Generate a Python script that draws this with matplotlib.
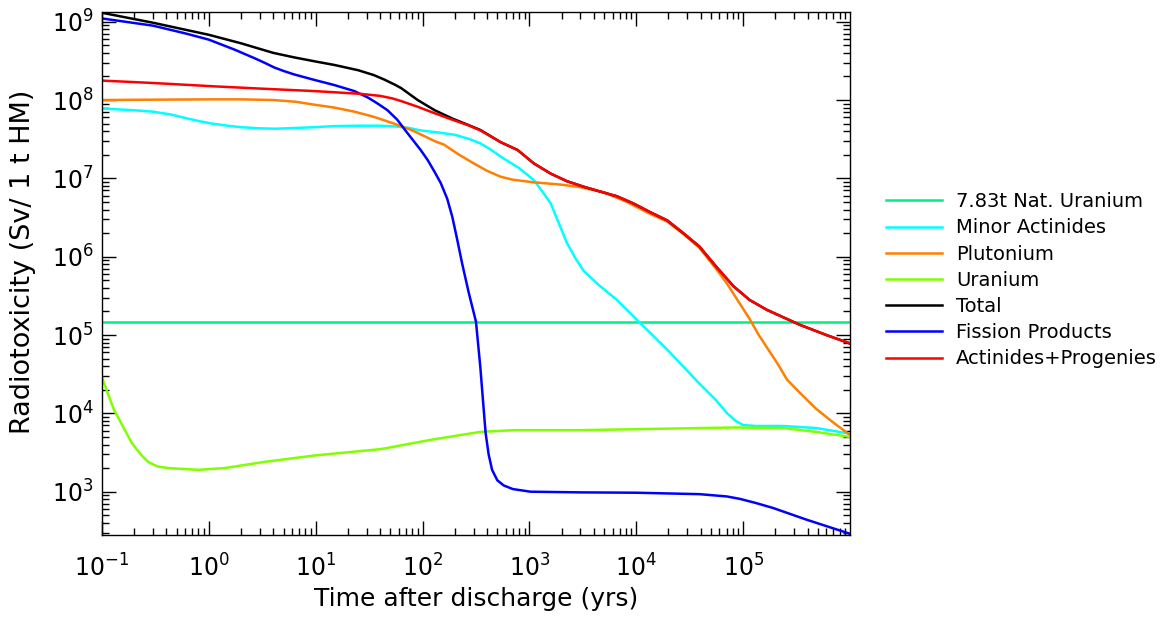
import matplotlib
matplotlib.use('Agg')
import matplotlib.pyplot as plt
from matplotlib.ticker import LogLocator, NullFormatter

# Years after discharge / radiotoxicity (Sv per t HM)
nat_u_level = 1.48e5
nat_u_t = [0.1, 1e6]

ma_t = [0.1, 0.2, 0.3, 0.45, 0.6, 0.8, 1.07, 1.5, 2.0, 3.0, 4.2, 6.5, 9.8,
        15, 26, 40, 55, 75, 95, 140, 200, 270, 347, 430, 537, 800, 1100,
        1300, 1580, 1900, 2240, 2700, 3240, 4500, 6600, 11000, 19500, 38900,
        55000, 70800, 85000, 1e5, 130000, 234000, 479000, 1e6]
ma_v = [7.8e7, 7.4e7, 7.1e7, 6.5e7, 5.9e7, 5.4e7, 5.0e7, 4.7e7, 4.5e7,
        4.35e7, 4.3e7, 4.4e7, 4.5e7, 4.65e7, 4.7e7, 4.7e7, 4.6e7, 4.4e7,
        4.1e7, 3.85e7, 3.6e7, 3.2e7, 2.8e7, 2.35e7, 1.9e7, 1.35e7, 9.5e6,
        7.0e6, 4.8e6, 2.6e6, 1.5e6, 9.5e5, 6.5e5, 4.3e5, 2.8e5, 1.4e5, 6.5e4,
        2.4e4, 1.5e4, 1.0e4, 8.0e3, 7.1e3, 6.9e3, 6.9e3, 6.5e3, 5.5e3]

pu_t = [0.1, 0.3, 1.07, 2.0, 4.0, 6.5, 9.8, 15, 23, 35, 54, 80, 129, 158,
        220, 302, 400, 537, 700, 1100, 2000, 3020, 5000, 8130, 13000, 19500,
        27500, 38900, 56200, 70800, 90000, 115000, 140000, 166000, 210000,
        257000, 330000, 479000, 700000, 1e6]
pu_v = [1.0e8, 1.01e8, 1.02e8, 1.02e8, 1.0e8, 9.5e7, 8.7e7, 8.0e7, 7.1e7,
        6.1e7, 5.0e7, 4.1e7, 3.0e7, 2.7e7, 2.0e7, 1.55e7, 1.25e7, 1.05e7,
        9.6e6, 8.9e6, 8.3e6, 7.7e6, 6.6e6, 5.0e6, 3.6e6, 2.8e6, 1.95e6,
        1.3e6, 6.9e5, 4.5e5, 2.7e5, 1.6e5, 1.0e5, 7.0e4, 4.3e4, 2.7e4,
        1.9e4, 1.15e4, 7.6e3, 5.3e3]

u_t = [0.1, 0.115, 0.13, 0.16, 0.19, 0.23, 0.27, 0.33, 0.42, 0.8, 1.4, 3.3,
       9.8, 41, 120, 347, 720, 3000, 81000, 234000, 479000, 1e6]
u_v = [2.9e4, 1.7e4, 1.1e4, 6.5e3, 4.2e3, 3.0e3, 2.4e3, 2.1e3, 2.0e3, 1.9e3,
       2.0e3, 2.4e3, 2.9e3, 3.5e3, 4.6e3, 5.8e3, 6.1e3, 6.1e3, 6.6e3, 6.5e3,
       5.8e3, 5.0e3]

total_t = [0.1, 0.3, 1.0, 2.0, 4.0, 6.3, 10, 15, 25, 35, 44, 55, 63, 90, 130,
           190, 263, 347, 537, 775, 1100, 1580, 2240, 3240, 4570, 6600, 9330,
           13500, 19500, 27500, 38900, 56200, 81000, 115000, 166000, 339000,
           600000, 1e6]
total_v = [1.3e9, 9.7e8, 6.8e8, 5.3e8, 4.0e8, 3.5e8, 3.1e8, 2.8e8, 2.4e8,
           2.08e8, 1.82e8, 1.57e8, 1.42e8, 1.0e8, 7.4e7, 5.8e7, 4.85e7,
           4.15e7, 2.9e7, 2.3e7, 1.55e7, 1.15e7, 9.2e6, 7.8e6, 6.8e6, 5.9e6,
           4.8e6, 3.7e6, 2.9e6, 2.0e6, 1.35e6, 7.4e5, 4.2e5, 2.8e5, 2.1e5,
           1.35e5, 1.0e5, 7.8e4]

fp_t = [0.1, 0.3, 0.6, 1.0, 1.74, 2.7, 3.3, 4.1, 5.0, 6.3, 9.8, 15, 23, 31,
        38, 47, 58, 72, 96, 112, 130, 148, 170, 190, 210, 234, 270, 316, 347,
        370, 389, 415, 447, 500, 575, 700, 1020, 3000, 10000, 39000, 70000,
        93000, 130000, 190000, 390000, 1e6]
fp_v = [1.1e9, 8.9e8, 7.1e8, 5.9e8, 4.4e8, 3.4e8, 3.0e8, 2.6e8, 2.35e8,
        2.12e8, 1.8e8, 1.55e8, 1.3e8, 1.07e8, 9.0e7, 7.4e7, 5.6e7, 3.8e7,
        2.3e7, 1.7e7, 1.2e7, 8.7e6, 5.5e6, 3.2e6, 1.7e6, 8.3e5, 3.5e5,
        1.48e5, 3.9e4, 1.3e4, 5.6e3, 3.0e3, 1.9e3, 1.4e3, 1.2e3, 1.08e3,
        1.0e3, 9.8e2, 9.7e2, 9.3e2, 8.7e2, 8.1e2, 7.2e2, 6.2e2, 4.4e2, 2.9e2]

act_t = [0.1, 0.3, 1.07, 3.0, 9.8, 26, 40, 52, 63, 90, 129, 190, 263, 347,
         537, 775, 1100, 1580, 2240, 3240, 4570, 6600, 9330, 13500, 19500,
         27500, 38900, 56200, 81000, 115000, 166000, 339000, 600000, 1e6]
act_v = [1.77e8, 1.65e8, 1.5e8, 1.4e8, 1.3e8, 1.2e8, 1.13e8, 1.05e8, 9.7e7,
         8.2e7, 6.8e7, 5.6e7, 4.8e7, 4.1e7, 2.9e7, 2.3e7, 1.55e7, 1.15e7,
         9.2e6, 7.8e6, 6.8e6, 5.9e6, 4.8e6, 3.7e6, 2.9e6, 2.0e6, 1.35e6,
         7.4e5, 4.2e5, 2.8e5, 2.1e5, 1.35e5, 1.0e5, 7.8e4]

plt.rcParams['font.family'] = 'DejaVu Sans'

fig = plt.figure(figsize=(11.6, 6.21), dpi=100)
ax = fig.add_axes([0.0879, 0.1385, 0.6449, 0.8422])

lw = 1.8
ax.plot(nat_u_t, [nat_u_level, nat_u_level], color='#00f080', lw=lw, label='7.83t Nat. Uranium')
ax.plot(ma_t, ma_v, color='#00ffff', lw=lw, label='Minor Actinides')
ax.plot(pu_t, pu_v, color='#ff8000', lw=lw, label='Plutonium')
ax.plot(u_t, u_v, color='#80ff00', lw=lw, label='Uranium')
ax.plot(total_t, total_v, color='black', lw=lw, label='Total')
ax.plot(fp_t, fp_v, color='#0000ff', lw=lw, label='Fission Products')
ax.plot(act_t, act_v, color='#ff0000', lw=lw, label='Actinides+Progenies')

ax.set_xscale('log')
ax.set_yscale('log')
ax.set_xlim(0.1, 1e6)
ax.set_ylim(280, 1.33e9)

ax.set_xticks([1e-1, 1e0, 1e1, 1e2, 1e3, 1e4, 1e5])
ax.set_xticklabels([r'$10^{-1}$', r'$10^{0}$', r'$10^{1}$', r'$10^{2}$',
                    r'$10^{3}$', r'$10^{4}$', r'$10^{5}$'])
ax.set_yticks([1e3, 1e4, 1e5, 1e6, 1e7, 1e8, 1e9])
ax.set_yticklabels([r'$10^{3}$', r'$10^{4}$', r'$10^{5}$', r'$10^{6}$',
                    r'$10^{7}$', r'$10^{8}$', r'$10^{9}$'])
ax.xaxis.set_minor_locator(LogLocator(base=10, subs=range(2, 10), numticks=20))
ax.yaxis.set_minor_locator(LogLocator(base=10, subs=range(2, 10), numticks=20))
ax.xaxis.set_minor_formatter(NullFormatter())
ax.yaxis.set_minor_formatter(NullFormatter())

ax.tick_params(which='both', direction='in', top=True, right=True, width=1.0)
ax.tick_params(which='major', length=10, labelsize=17)
ax.tick_params(which='minor', length=5)
ax.tick_params(axis='x', which='major', pad=14)
ax.tick_params(axis='y', which='major', pad=6)
for sp in ax.spines.values():
    sp.set_linewidth(1.0)

ax.set_xlabel('Time after discharge (yrs)', fontsize=18, labelpad=4)
ax.set_ylabel('Radiotoxicity (Sv/ 1 t HM)', fontsize=19.5)
ax.yaxis.set_label_coords(-0.088, 0.522)

fig.legend(loc='upper left', bbox_to_anchor=(0.757, 0.703), frameon=False,
           fontsize=14, handlelength=2.88, handletextpad=0.72,
           labelspacing=0.37, borderaxespad=0)

fig.savefig('out.png', dpi=100)
